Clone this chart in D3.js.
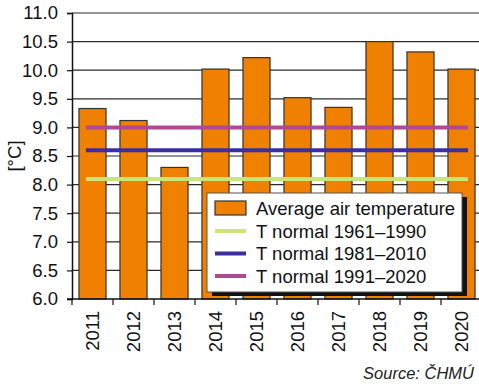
<!DOCTYPE html>
<html>
<head>
<meta charset="utf-8">
<script src="https://cdn.jsdelivr.net/npm/d3@7"></script>
<style>
  body { margin: 0; background: #fff; }
  svg { display: block; font-family: "Liberation Sans", Arial, sans-serif; }
</style>
</head>
<body>
<div id="chart"></div>
<script>
var years = ['2011','2012','2013','2014','2015','2016','2017','2018','2019','2020'];
var avgTemp = [9.33, 9.12, 8.3, 10.02, 10.22, 9.52, 9.35, 10.5, 10.32, 10.02];
var normalNames = ['T normal 1961\u20131990', 'T normal 1981\u20132010', 'T normal 1991\u20132020'];
var normalValues = [8.1, 8.6, 9.0];
var normalColors = ['#c8e67a', '#3b2f9c', '#b0498f'];
var yTicks = [6.0, 6.5, 7.0, 7.5, 8.0, 8.5, 9.0, 9.5, 10.0, 10.5, 11.0];

var width = 479, height = 386;
var margin = { top: 13, right: -3, bottom: 87, left: 72 };
var fs = 18.5;

var svg = d3.select('#chart').append('svg')
            .attr('width', width)
            .attr('height', height);

var x = d3.scaleBand().domain(years)
          .range([margin.left, width - margin.right])
          .paddingInner(0.34).paddingOuter(0.17);
var y = d3.scaleLinear().domain([6, 11]).range([height - margin.bottom, margin.top]);

// gridlines
svg.append('g')
   .selectAll('line')
   .data(yTicks.slice(1))
   .enter().append('line')
   .attr('x1', margin.left).attr('x2', width)
   .attr('y1', function(d){ return y(d); })
   .attr('y2', function(d){ return y(d); })
   .attr('stroke', '#2a2a2a')
   .attr('stroke-width', 1.2);

// bars
svg.append('g')
   .selectAll('rect')
   .data(avgTemp)
   .enter().append('rect')
   .attr('x', function(d, i){ return x(years[i]); })
   .attr('y', function(d){ return y(d); })
   .attr('width', x.bandwidth())
   .attr('height', function(d){ return y(6) - y(d); })
   .attr('fill', '#f08000')
   .attr('stroke', '#333')
   .attr('stroke-width', 1.2);

// normal lines
var ext = x.step() * 0.16;
var lx1 = x(years[0]) + x.bandwidth() / 2 - ext;
var lx2 = x(years[years.length - 1]) + x.bandwidth() / 2 + ext;
svg.append('g')
   .selectAll('line')
   .data(normalValues)
   .enter().append('line')
   .attr('x1', lx1).attr('x2', lx2)
   .attr('y1', function(d){ return y(d); })
   .attr('y2', function(d){ return y(d); })
   .attr('stroke', function(d, i){ return normalColors[i]; })
   .attr('stroke-width', 4);

// y axis
var yAxis = d3.axisLeft(y).tickValues(yTicks).tickFormat(d3.format('.1f')).tickSizeOuter(0).tickSize(5).tickPadding(9);
var gy = svg.append('g')
   .attr('transform', 'translate(' + margin.left + ',0)')
   .call(yAxis);
gy.select('.domain').attr('stroke', '#111').attr('stroke-width', 1.5);
gy.selectAll('.tick line').attr('stroke', '#111').attr('stroke-width', 1.2);
gy.selectAll('text').attr('font-size', fs).attr('fill', '#111')
  .attr('font-family', '"Liberation Sans", Arial, sans-serif');

// x axis
var base = y(6);
svg.append('line')
   .attr('x1', margin.left - 5).attr('x2', width)
   .attr('y1', base).attr('y2', base)
   .attr('stroke', '#111').attr('stroke-width', 1.5);
svg.append('g')
   .selectAll('line')
   .data(years)
   .enter().append('line')
   .attr('x1', function(d){ return x(d) - x.step() * x.paddingInner() / 2; })
   .attr('x2', function(d){ return x(d) - x.step() * x.paddingInner() / 2; })
   .attr('y1', base).attr('y2', base + 6)
   .attr('stroke', '#111').attr('stroke-width', 1.2);
svg.append('g')
   .selectAll('text')
   .data(years)
   .enter().append('text')
   .attr('transform', function(d){
     return 'translate(' + (x(d) + x.bandwidth() / 2 + 6.5) + ',' + (base + 12) + ') rotate(-90)';
   })
   .attr('text-anchor', 'end')
   .attr('font-size', fs)
   .attr('fill', '#111')
   .text(function(d){ return d; });

// y label
svg.append('text')
   .attr('transform', 'translate(21,' + ((margin.top + base) / 2) + ') rotate(-90)')
   .attr('text-anchor', 'middle')
   .attr('font-size', fs)
   .attr('fill', '#111')
   .text('[°C]');

// legend
var lg = svg.append('g').attr('transform', 'translate(207,193)');
lg.append('rect').attr('x', 5).attr('y', 4).attr('width', 255).attr('height', 99).attr('fill', '#111');
lg.append('rect').attr('x', 0).attr('y', 0).attr('width', 255).attr('height', 99)
  .attr('fill', '#fff').attr('stroke', '#555').attr('stroke-width', 1);
lg.append('rect').attr('x', 8).attr('y', 8).attr('width', 31).attr('height', 14)
  .attr('fill', '#f08000').attr('stroke', '#333').attr('stroke-width', 1.2);
lg.append('text').attr('x', 49).attr('y', 21.5).attr('font-size', fs).attr('fill', '#111')
  .text('Average air temperature');
normalNames.forEach(function(name, i){
  var ry = 38 + i * 22.5;
  lg.append('line').attr('x1', 8).attr('x2', 39).attr('y1', ry).attr('y2', ry)
    .attr('stroke', normalColors[i]).attr('stroke-width', 4);
  lg.append('text').attr('x', 49).attr('y', ry + 6.5).attr('font-size', fs).attr('fill', '#111')
    .text(name);
});

// source
svg.append('text')
   .attr('x', 474).attr('y', 379)
   .attr('text-anchor', 'end')
   .attr('font-size', 16.5)
   .attr('font-style', 'italic')
   .attr('fill', '#222')
   .text('Source: ČHMÚ');
</script>
</body>
</html>
